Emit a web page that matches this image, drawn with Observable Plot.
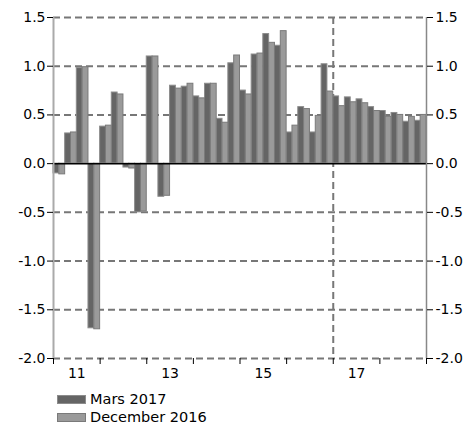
<!DOCTYPE html>
<html>
<head>
<meta charset="utf-8">
<script src="https://cdn.jsdelivr.net/npm/d3@7"></script>
<script src="https://cdn.jsdelivr.net/npm/@observablehq/plot@0.6"></script>
<style>
  body { margin: 0; background: #fff; font-family: "DejaVu Sans", Verdana, sans-serif; }
  #wrap { position: relative; width: 470px; height: 424px; }
  .leg { position: absolute; left: 57px; font-size: 14.5px; color: #000; display: flex; align-items: center; line-height: 18px; }
  .sw { width: 27px; height: 7px; margin-right: 4px; }
</style>
</head>
<body>
<div id="wrap"></div>
<script>
const years = [2011, 2012, 2013, 2014, 2015, 2016, 2017, 2018];
const seriesNames = ["Mars 2017", "December 2016"];
// quarterly values 2011Q1 .. 2018Q4
const mars2017 = [
  -0.10, 0.31, 0.98, -1.69,
  0.38, 0.73, -0.04, -0.50,
  1.10, -0.34, 0.80, 0.79,
  0.69, 0.82, 0.46, 1.03,
  0.75, 1.12, 1.33, 1.21,
  0.32, 0.58, 0.32, 1.02,
  0.69, 0.68, 0.66, 0.58,
  0.54, 0.52, 0.43, 0.44
];
const dec2016 = [
  -0.11, 0.32, 0.99, -1.70,
  0.39, 0.71, -0.05, -0.49,
  1.10, -0.33, 0.77, 0.82,
  0.67, 0.82, 0.42, 1.11,
  0.71, 1.13, 1.24, 1.36,
  0.39, 0.56, 0.49, 0.74,
  0.59, 0.63, 0.62, 0.54,
  0.48, 0.50, 0.48, 0.50
];
const yTicks = [-2, -1.5, -1, -0.5, 0, 0.5, 1, 1.5];
const gridVals = [-2, -1.5, -1, -0.5, 0.5, 1, 1.5];
const labelYears = [2011, 2013, 2015, 2017];
const fills = ["#656565", "#9a9a9a"];
const strokes = ["#8c8c8c", "#7a7a7a"];

const rows = [];
[mars2017, dec2016].forEach((arr, s) => {
  arr.forEach((v, i) => rows.push({i, s, v}));
});
const x1 = d => years[0] + d.i / 4 + d.s / 8;
const x2 = d => years[0] + d.i / 4 + (d.s + 1) / 8;
const fmt = d => d.toFixed(1);
const boundaries = [...years, years[years.length - 1] + 1];

const plot = Plot.plot({
  width: 470,
  height: 382,
  marginLeft: 53,
  marginRight: 44,
  marginTop: 17,
  marginBottom: 24,
  x: {domain: [years[0], years[years.length - 1] + 1]},
  y: {domain: [-2, 1.5]},
  style: {fontFamily: "DejaVu Sans, Verdana, sans-serif", fontSize: "14px", color: "#000", background: "#fff"},
  marks: [
    Plot.ruleY(gridVals, {stroke: "#777", strokeWidth: 2, strokeDasharray: "7,4"}),
    Plot.ruleX([2017], {stroke: "#777", strokeWidth: 2, strokeDasharray: "7,4"}),
    Plot.rectY(rows, {
      x1, x2, y1: 0, y2: "v",
      fill: d => fills[d.s], stroke: d => strokes[d.s], strokeWidth: 1
    }),
    Plot.ruleY([0], {stroke: "#000", strokeWidth: 1.5}),
    Plot.ruleX([boundaries[0]], {stroke: "#aaa", strokeWidth: 2}),
    Plot.ruleX([boundaries[boundaries.length - 1]], {stroke: "#888", strokeWidth: 1.5}),
    Plot.axisY({anchor: "left", ticks: yTicks, tickFormat: fmt, tickSize: 6, tickPadding: 2, label: null, stroke: "#000"}),
    Plot.axisY({anchor: "right", ticks: yTicks, tickFormat: fmt, tickSize: 6, tickPadding: 3, label: null}),
    Plot.axisX({ticks: boundaries, tickFormat: () => "", tickSize: 6, label: null}),
    Plot.axisX({ticks: labelYears.map(y => y + 0.5), tickFormat: d => String(Math.floor(d)).slice(2), tickSize: 0, tickPadding: 10, label: null})
  ]
});
const wrap = document.getElementById("wrap");
wrap.appendChild(plot);
seriesNames.forEach((name, k) => {
  const div = document.createElement("div");
  div.className = "leg";
  div.style.top = (390 + k * 18) + "px";
  div.innerHTML = `<span class="sw" style="background:${fills[k]};border:1px solid ${strokes[k]}"></span><span>${name}</span>`;
  wrap.appendChild(div);
});
</script>
</body>
</html>
